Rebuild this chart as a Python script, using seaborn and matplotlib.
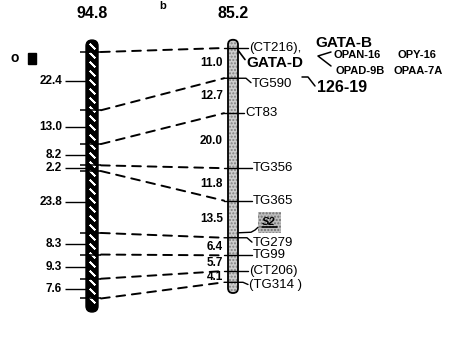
import numpy as np
import matplotlib
matplotlib.use('Agg')
import matplotlib.pyplot as plt
import seaborn as sns
from matplotlib.patches import FancyBboxPatch, Rectangle, ConnectionPatch

# Linkage map data (cM)
left_total = 94.8
right_total = 85.2
left_intervals = [22.4, 13.0, 8.2, 2.2, 23.8, 8.3, 9.3, 7.6]
right_intervals = [11.0, 12.7, 20.0, 11.8, 13.5, 6.4, 5.7, 4.1]
right_markers = ['(CT216),', 'TG590', 'CT83', 'TG356', 'TG365',
                 'TG279', 'TG99', '(CT206)', '(TG314 )']
gata_b, gata_d = 'GATA-B', 'GATA-D'
rapd_row1 = ['OPAN-16', 'OPY-16']
rapd_row2 = ['OPAD-9B', 'OPAA-7A']
clone_label = '126-19'
gene_label = 'S2'
gene_pos = 63.4  # cM on right map

left_pos = np.concatenate([[0], np.cumsum(left_intervals)])
right_pos = np.concatenate([[0], np.cumsum(right_intervals)])
left_mid = left_pos[:-1] + np.array(left_intervals) / 2
right_mid = right_pos[:-1] + np.array(right_intervals) / 2

sns.set_theme(style='white')
plt.rcParams['font.family'] = ['Liberation Sans', 'DejaVu Sans']
plt.rcParams['text.color'] = 'black'

W, H = 470, 357
fig = plt.figure(figsize=(W / 100, H / 100), dpi=100)

# pixel-like axes for free decoration
ax_px = fig.add_axes([0, 0, 1, 1])
ax_px.set_xlim(0, W)
ax_px.set_ylim(H, 0)
ax_px.axis('off')

# each map has its own cM scale
l_top, l_scale = 52, 2.6
r_top, r_scale = 48, 2.75
ax_l = fig.add_axes([0, 0, 1, 1], label='left')
ax_l.set_xlim(0, W)
ax_l.set_ylim((H - l_top) / l_scale, -l_top / l_scale)
ax_l.axis('off')
ax_r = fig.add_axes([0, 0, 1, 1], label='right')
ax_r.set_xlim(0, W)
ax_r.set_ylim((H - r_top) / r_scale, -r_top / r_scale)
ax_r.axis('off')


def chrom(ax, xc, w, top, bot, scale, **kw):
    p = FancyBboxPatch((xc - w / 2, top), w, bot - top,
                       boxstyle=f'round,pad=0,rounding_size={w / 2}',
                       mutation_aspect=1 / scale, **kw)
    ax.add_patch(p)
    return p


# left chromosome: black with white diagonal dashes
lx = 92
chrom(ax_l, lx, 12, -4.6, left_total + 5.2, l_scale, fc='black', ec='black', lw=1, zorder=3)
ys = np.arange(-2.5, left_total + 4, 3.5)
ax_l.plot(np.full_like(ys, lx), ys, ls='none', marker=(2, 2, 45), ms=5.5,
          mec='white', mew=1.3, zorder=4)
ax_l.hlines(left_pos, 80, 101, color='black', lw=1.1, zorder=5)
for m, v in zip(left_mid, left_intervals):
    ax_l.text(62, m, f'{v}', ha='right', va='center', fontsize=8.5, fontweight='bold')
ax_l.hlines(left_mid, 65, 86, color='black', lw=1.0)

# right chromosome: stippled grey
rx = 233
chrom(ax_r, rx, 10, -3, right_total + 3.9, r_scale, fc='#cdcdcd', ec='#808080',
      hatch='.....', lw=0, zorder=3)
chrom(ax_r, rx, 10, -3, right_total + 3.9, r_scale, fc='none', ec='black', lw=1.3, zorder=4)

text_x = [249, 252, 245, 253, 253, 253, 253, 249, 249]
label_dy = [0, 2.0, 0, 0, 0, 2.0, 0, 0, 1.0]
for name, pos, tx, dy in zip(right_markers, right_pos, text_x, label_dy):
    if dy > 0:
        ax_r.plot([224, tx - 6, tx - 1], [pos, pos, pos + dy * 0.8], color='black', lw=1.0, zorder=5)
    else:
        ax_r.plot([224, tx - 1], [pos, pos], color='black', lw=1.0, zorder=5)
    ax_r.text(tx, pos + dy, name, ha='left', va='center', fontsize=9.5)
for m, v in zip(right_mid, right_intervals):
    ax_r.text(223, m, f'{v}', ha='right', va='center', fontsize=8.5, fontweight='bold')

# dashed links between homologous markers
for lp, rp in zip(left_pos, right_pos):
    con = ConnectionPatch(xyA=(101, lp), coordsA=ax_l.transData,
                          xyB=(224, rp), coordsB=ax_r.transData,
                          color='black', lw=1.4, ls=(0, (4.5, 3.5)))
    fig.add_artist(con)

# GATA / RAPD / clone labels near the top of the right map
ax_px.text(315, 43, gata_b, ha='left', va='center', fontsize=11, fontweight='bold')
ax_r.plot([238, 245], [0.8, 4.2], color='black', lw=1.2)
ax_r.text(246, 5.5, gata_d, ha='left', va='center', fontsize=11, fontweight='bold')
ax_px.plot([331, 318, 331], [52, 56, 66], color='black', lw=1.1)
ax_px.text(333, 55, rapd_row1[0], ha='left', va='center', fontsize=8, fontweight='bold')
ax_px.text(397, 55, rapd_row1[1], ha='left', va='center', fontsize=8, fontweight='bold')
ax_px.text(335, 71, rapd_row2[0], ha='left', va='center', fontsize=8, fontweight='bold')
ax_px.text(394, 71, rapd_row2[1], ha='left', va='center', fontsize=8, fontweight='bold')
ax_px.plot([302, 308, 315], [77, 77, 86], color='black', lw=1.1)
ax_px.text(317, 88, clone_label, ha='left', va='center', fontsize=11.5, fontweight='bold')

# S2 gene box
ax_r.add_patch(Rectangle((258, gene_pos - 3.8), 23, 7.6, fc='#bdbdbd', ec='#707070',
                         hatch='.....', lw=0))
ax_r.text(269, gene_pos - 0.2, gene_label, ha='center', va='center', fontsize=8,
          fontweight='bold', fontstyle='italic')
ax_r.plot([262, 277], [gene_pos + 1.6, gene_pos + 1.6], color='black', lw=1.2)
ax_r.plot([238, 251, 255, 258], [67.2, 67.0, 66.2, 65.2], color='black', lw=1.0)

# map lengths and stray marks
ax_px.text(lx, 14, f'{left_total}', ha='center', va='center', fontsize=11.5, fontweight='bold')
ax_px.text(rx, 14, f'{right_total}', ha='center', va='center', fontsize=11.5, fontweight='bold')
ax_px.text(163, 1, 'b', ha='center', va='top', fontsize=8, fontweight='bold')
ax_px.text(15, 58, 'o', ha='center', va='center', fontsize=10, fontweight='bold')
ax_px.add_patch(Rectangle((28, 53), 8, 11, fc='black', ec='black'))

fig.savefig('out.png', dpi=100)
